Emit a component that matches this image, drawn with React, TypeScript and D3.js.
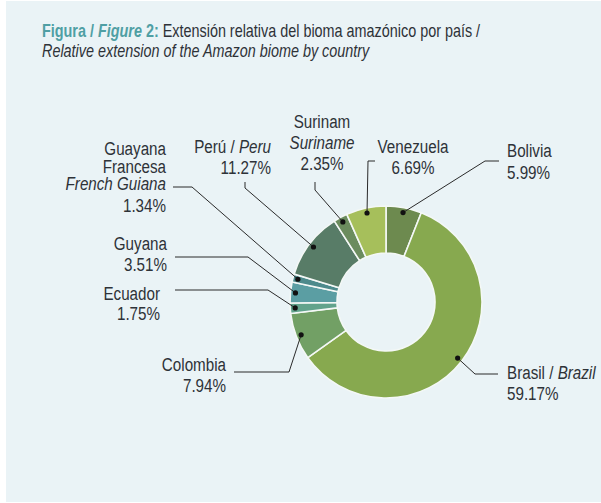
import React, { useEffect, useRef } from 'react';
import * as d3 from 'd3';

// data (clockwise from 12 o'clock)
const countries = ['Bolivia', 'Brasil', 'Colombia', 'Ecuador', 'Guyana', 'Guayana Francesa', 'Perú', 'Surinam', 'Venezuela'];
const shares = [5.99, 59.17, 7.94, 1.75, 3.51, 1.34, 11.27, 2.35, 6.69];
const sliceColors = ['#6d8a4f', '#87a94f', '#72a065', '#62a38c', '#5b9ea3', '#4d8a8c', '#587c67', '#6b8c5e', '#a6bf5b'];

// label text lines per country: [text, italic] pieces
type Piece = [string, boolean];
const labelLines: Piece[][][] = [
    [[['Bolivia', false]]],
    [[['Brasil / ', false], ['Brazil', true]]],
    [[['Colombia', false]]],
    [[['Ecuador', false]]],
    [[['Guyana', false]]],
    [[['Guayana', false]], [['Francesa', false]], [['French Guiana', true]]],
    [[['Perú / ', false], ['Peru', true]]],
    [[['Surinam', false]], [['Suriname', true]]],
    [[['Venezuela', false]]],
];

const FONT = '"Liberation Sans", Arial, sans-serif';
const INK = '#2e3238';
const SQUEEZE = 0.8; // fake a condensed face

const App = () => {
    const svgRef = useRef<SVGSVGElement>(null);

    useEffect(() => {
        const width = 601;
        const height = 503;
        const cx = 386;
        const cy = 302;

        const svg = d3.select(svgRef.current)
            .attr('width', width)
            .attr('height', height)
            .style('font-family', FONT);

        svg.selectAll('*').remove();

        // condensed text helper
        const addText = (x: number, y: number, size: number, anchor = 'start') =>
            svg.append('text')
                .attr('transform', `translate(${x}, ${y}) scale(${SQUEEZE}, 1)`)
                .attr('text-anchor', anchor)
                .attr('font-size', size)
                .attr('fill', INK);

        svg.append('rect')
            .attr('x', 6)
            .attr('y', 1)
            .attr('width', width - 6)
            .attr('height', height - 2)
            .attr('fill', '#eaf3f6');

        // Title
        const title = addText(42, 37, 18);
        title.append('tspan').attr('font-weight', 'bold').attr('fill', '#4f9fa4').text('Figura / ');
        title.append('tspan').attr('font-weight', 'bold').attr('font-style', 'italic').attr('fill', '#4f9fa4').text('Figure');
        title.append('tspan').attr('font-weight', 'bold').attr('fill', '#4f9fa4').text(' 2:');
        title.append('tspan').text(' Extensión relativa del bioma amazónico por país /');

        addText(42, 57, 18)
            .attr('font-style', 'italic')
            .text('Relative extension of the Amazon biome by country');

        const data = countries.map((c, i) => ({ name: c, value: shares[i], color: sliceColors[i], lines: labelLines[i] }));

        const pie = d3.pie<any>()
            .value(d => d.value)
            .sort(null);

        const arc = d3.arc<any>()
            .innerRadius(49)
            .outerRadius(96);

        const dotArc = d3.arc<any>()
            .innerRadius(91)
            .outerRadius(91);

        const arcs = pie(data);

        const g = svg.append('g')
            .attr('transform', `translate(${cx}, ${cy})`);

        g.selectAll('path.slice')
            .data(arcs)
            .enter()
            .append('path')
            .attr('class', 'slice')
            .attr('d', arc)
            .attr('fill', d => d.data.color)
            .attr('stroke', '#f4f8f6')
            .attr('stroke-width', 1.6);

        // label layout: anchor, x, baselines of name lines, baseline of value, leader elbows
        const layout = [
            { anchor: 'start', x: 507, ys: [157], vy: 179, elbow: [[485, 161], [499, 161]] },
            { anchor: 'start', x: 507, ys: [379], vy: 400, elbow: [[475, 374], [498, 374]] },
            { anchor: 'end', x: 226, ys: [371], vy: 392, elbow: [[289, 372], [234, 372]] },
            { anchor: 'end', x: 160, ys: [300], vy: 320, elbow: [[268, 290], [175, 290]] },
            { anchor: 'end', x: 167, ys: [250], vy: 271, elbow: [[248, 257], [175, 257]] },
            { anchor: 'end', x: 166, ys: [155, 172.5, 190], vy: 212, elbow: [[192, 187], [173, 187]] },
            { anchor: 'end', x: 271, ys: [153], vy: 174, elbow: [[245, 188], [245, 182]] },
            { anchor: 'middle', x: 322, ys: [128, 149], vy: 170, elbow: [[315, 190], [315, 182]] },
            { anchor: 'middle', x: 413, ys: [153], vy: 174, elbow: [[368, 161], [375, 161]] },
        ];

        const fmt = d3.format('.2f');
        const line = d3.line();

        arcs.forEach((a, i) => {
            const [dx, dy] = dotArc.centroid(a);
            const dot: [number, number] = [cx + dx, cy + dy];
            const L = layout[i];

            svg.append('path')
                .attr('d', line([dot, ...(L.elbow as [number, number][])]))
                .attr('fill', 'none')
                .attr('stroke', '#2a2a2a')
                .attr('stroke-width', 1);

            svg.append('circle')
                .attr('cx', dot[0])
                .attr('cy', dot[1])
                .attr('r', 2.6)
                .attr('fill', '#111');

            a.data.lines.forEach((pieces: Piece[], j: number) => {
                const t = addText(L.x, L.ys[j], 19, L.anchor);
                pieces.forEach(([s, it]) => {
                    t.append('tspan').attr('font-style', it ? 'italic' : 'normal').text(s);
                });
            });

            addText(L.x, L.vy, 19, L.anchor).text(`${fmt(a.data.value)}%`);
        });
    }, []);

    return (
        <svg ref={svgRef} style={{ position: 'absolute', left: 0, top: 0, display: 'block' }}></svg>
    );
};

export default App;
